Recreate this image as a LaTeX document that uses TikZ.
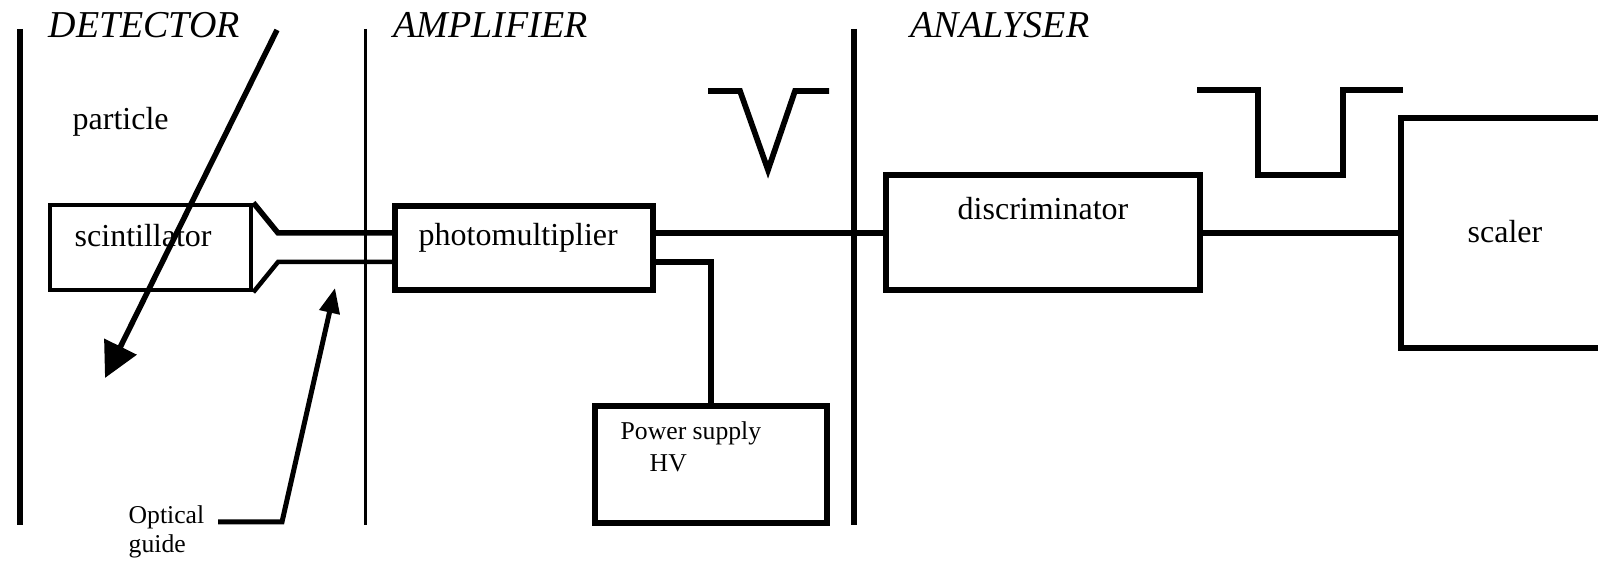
\documentclass[tikz,border=0pt]{standalone}
\usepackage{fontspec}
\setmainfont{Liberation Serif}
\usetikzlibrary{arrows.meta}
\begin{document}
\begin{tikzpicture}[x=0.01cm,y=-0.01cm,
  box/.style={draw, line width=0.055cm, inner sep=0pt},
  head/.style={font=\fontsize{10.8}{13}\selectfont\itshape, inner sep=0pt, anchor=base west},
  lab/.style={font=\fontsize{9.1}{11}\selectfont, inner sep=0pt, anchor=base west},
  small/.style={font=\fontsize{7.3}{9}\selectfont, inner sep=0pt, anchor=base west},
  wire/.style={line width=0.055cm},
  divider/.style={line width=0.06cm},
  pulse/.style={line width=0.057cm},
  pointer/.style={line width=0.055cm}]
\useasboundingbox (0,0) rectangle (1598,562);

% section dividers
\draw[divider] (20,29) -- (20,525);
\draw[divider, line width=0.03cm] (365.5,29) -- (365.5,525);
\draw[divider] (854,29) -- (854,525);

% headings
\node[head] (hdet) at (48,38) {DETECTOR};
\node[head] (hamp) at (393,38) {AMPLIFIER};
\node[head] (hana) at (910,38) {ANALYSER};

% boxes
\node[box, line width=0.045cm, minimum width=2.01cm, minimum height=0.85cm] (scint) at (150.5,247.5) {};
\node[lab] (tscint) at (74,247) {scintillator};
\node[box, minimum width=2.58cm, minimum height=0.84cm] (pm) at (524,248) {};
\node[lab] (tpm) at (418,246) {photomultiplier};
\node[box, line width=0.06cm, minimum width=3.14cm, minimum height=1.15cm] (disc) at (1043,232.5) {};
\node[lab] (tdisc) at (957,220) {discriminator};
\node[box, minimum width=2.99cm, minimum height=2.30cm] (scaler) at (1550.5,233) {};
\node[lab] (tscaler) at (1467,243) {scaler};
\node[box, minimum width=2.32cm, minimum height=1.17cm] (ps) at (711,464.5) {};
\node[small] (tps1) at (620,440) {Power supply};
\node[small] (tps2) at (649,472) {HV};

% labels
\node[lab] (tpart) at (72,130) {particle};
\node[small] (opt) at (128,524) {Optical};
\node[small] (opt2) at (128,553) {guide};

% levels
\coordinate (sig) at (0,233);
\coordinate (hvl) at (0,262);

% light guide
\draw[wire] (scint.north east) -- (278,233) -- (pm.west |- sig);
\draw[wire, line width=0.045cm] (scint.south east) -- (278,262) -- (pm.west |- hvl);

% signal wires
\draw[wire] (pm.east |- sig) -- (disc.west |- sig);
\draw[wire] (pm.east |- hvl) -| (ps.north);
\draw[wire] (disc.east |- sig) -- (scaler.west |- sig);

% pulses
\draw[pulse] (708,91) -- (740,91) -- (768,170) -- (795,91) -- (829,91);
\draw[pulse] (1197,90) -- (1258,90) -- (1258,175) -- (1343,175) -- (1343,90) -- (1403,90);

% particle track
\coordinate (pin) at (277,30);
\coordinate (pout) at (105,378);
\draw[pointer, -{Triangle[length=0.35cm,width=0.35cm]}] (pin) -- (pout);

% optical guide pointer
\coordinate (og) at (218,522);
\coordinate (ogk) at (282,522);
\coordinate (lg) at (335,288);
\draw[pointer, line width=0.05cm, -{Triangle[length=0.25cm,width=0.2cm]}] (og) -- (ogk) -- (lg);
\end{tikzpicture}
\end{document}
